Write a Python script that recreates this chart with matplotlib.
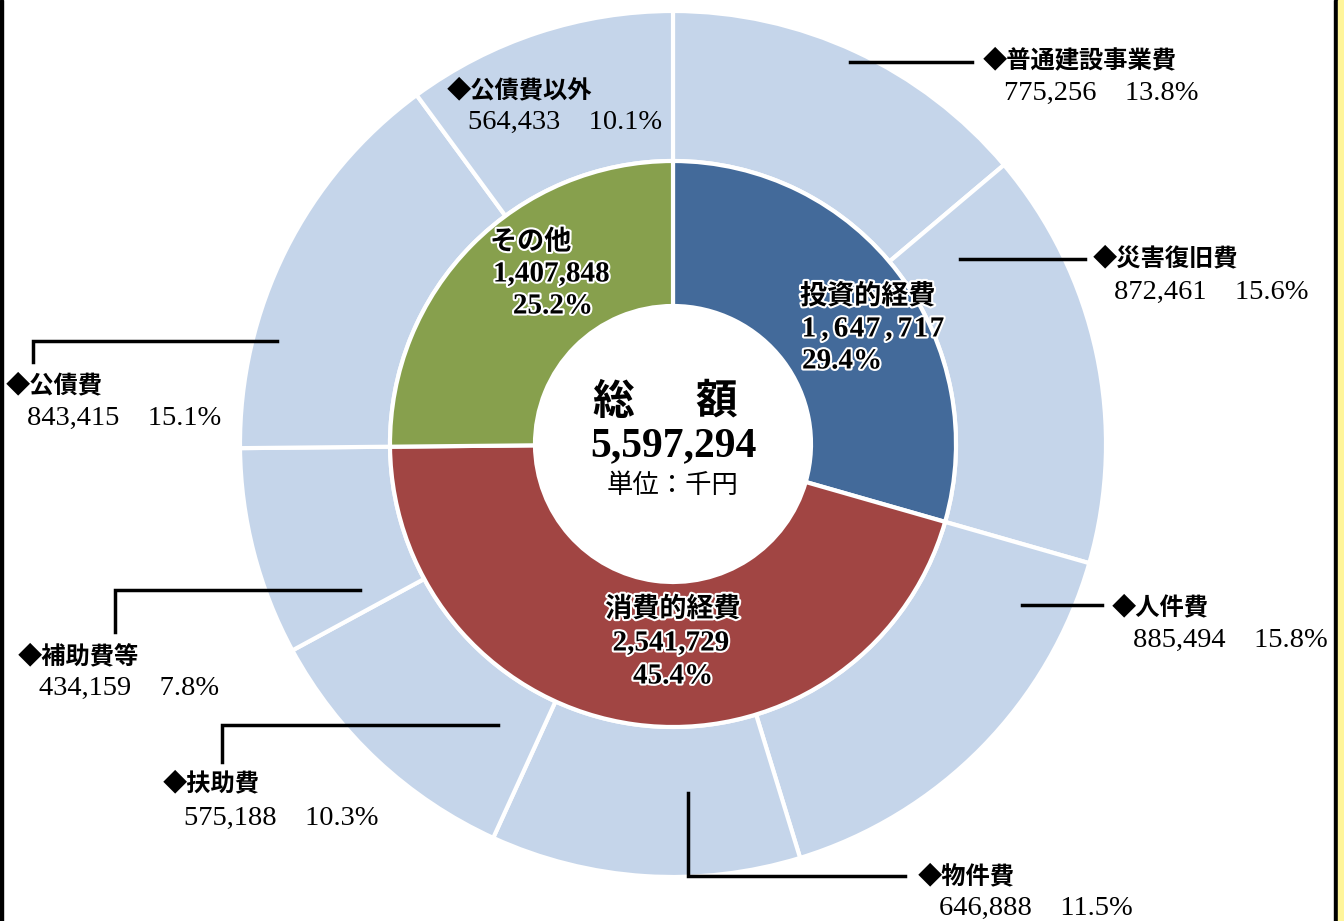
import matplotlib.pyplot as plt
import matplotlib.patheffects as pe
from matplotlib.patches import Rectangle

# data
outer_labels = ['普通建設事業費', '災害復旧費', '人件費', '物件費', '扶助費', '補助費等', '公債費', '公債費以外']
outer_values = [775256, 872461, 885494, 646888, 575188, 434159, 843415, 564433]
outer_pcts = ['13.8%', '15.6%', '15.8%', '11.5%', '10.3%', '7.8%', '15.1%', '10.1%']
inner_labels = ['投資的経費', '消費的経費', 'その他']
inner_values = [1647717, 2541729, 1407848]
inner_pcts = ['29.4%', '45.4%', '25.2%']
inner_colors = ['#436A9A', '#A14543', '#87A04D']
total = 5597294

W, H = 1344, 921
fam = ['Liberation Serif', 'Noto Sans CJK JP']

fig = plt.figure(figsize=(W / 100, H / 100), dpi=100)
ax = fig.add_axes([0, 0, 1, 1])
ax.set_xlim(0, W)
ax.set_ylim(0, H)
ax.set_aspect('equal')
ax.axis('off')

cx, cy = 673, H - 444
r_out, r_mid, r_hole = 433, 283, 138

ax.pie(outer_values, radius=r_out, center=(cx, cy), startangle=90, counterclock=False,
       colors=['#C5D5EA'] * len(outer_values),
       wedgeprops=dict(width=r_out - r_mid, edgecolor='white', linewidth=3))
ax.pie(inner_values, radius=r_mid, center=(cx, cy), startangle=90, counterclock=False,
       colors=inner_colors,
       wedgeprops=dict(width=r_mid - r_hole, edgecolor='white', linewidth=3))
ax.set_xlim(0, W)
ax.set_ylim(0, H)


def py(y):
    return H - y


# outer labels: (x of diamond, y of name line, y of value line)
lab_pos = [(983, 60, 93), (1093, 258, 292), (1112, 607, 640), (918, 876, 908),
           (163, 783, 818), (18, 656, 688), (6, 385, 418), (447, 90, 122)]
for name, v, p, (x, y1, y2) in zip(outer_labels, outer_values, outer_pcts, lab_pos):
    ax.text(x, py(y1), '◆' + name, family=fam, weight='bold', fontsize=17.5,
            ha='left', va='center', color='black')
    ax.text(x + 21, py(y2), f'{v:,}\u3000{p}', family=fam, fontsize=20.5,
            ha='left', va='center', color='black')

# leader lines
lines = [
    [(850, 62), (972, 62)],
    [(960, 259), (1085, 259)],
    [(1022, 605), (1102, 605)],
    [(688, 793), (688, 876), (905, 876)],
    [(498, 725), (222, 725), (222, 762)],
    [(360, 590), (115, 590), (115, 632)],
    [(277, 341), (33, 341), (33, 362)],
]
for seg in lines:
    xs = [s[0] for s in seg]
    ys = [py(s[1]) for s in seg]
    ax.plot(xs, ys, color='black', lw=2.5, solid_joinstyle='miter')

# inner labels
stroke = [pe.withStroke(linewidth=3, foreground='white')]
kw = dict(family=fam, weight='bold', va='center', color='black', path_effects=stroke)

# 投資的経費 (left aligned, spaced number)
ax.text(800, py(297), inner_labels[0], fontsize=19.5, ha='left', **kw)
for i, ch in enumerate(f'{inner_values[0]:,}'):
    ax.text(809 + i * 16.0, py(329), ch, fontsize=21, ha='center', **kw)
ax.text(802, py(361), inner_pcts[0], fontsize=21, ha='left', **kw)

# 消費的経費
ax.text(673, py(610), inner_labels[1], fontsize=19.5, ha='center', **kw)
ax.text(671, py(643), f'{inner_values[1]:,}', fontsize=21, ha='center', **kw)
ax.text(673, py(676), inner_pcts[1], fontsize=21, ha='center', **kw)

# その他
ax.text(490, py(243), inner_labels[2], fontsize=19.5, ha='left', **kw)
ax.text(493, py(274), f'{inner_values[2]:,}', fontsize=21, ha='left', **kw)
ax.text(553, py(306), inner_pcts[2], fontsize=21, ha='center', **kw)

# center
ax.text(613, py(403), '総', family=fam, weight='bold', fontsize=30, ha='center', va='center')
ax.text(716, py(403), '額', family=fam, weight='bold', fontsize=30, ha='center', va='center')
ax.text(cx, py(446), f'{total:,}', family=fam, weight='bold', fontsize=30, ha='center', va='center')
ax.text(cx, py(486), '単位：千円', family=fam, fontsize=19, ha='center', va='center')

# frame edges
ax.add_patch(Rectangle((0, 0), 3, H, color='black', zorder=5))
ax.add_patch(Rectangle((1334, 0), 4, H, color='black', zorder=5))
ax.add_patch(Rectangle((1338, 0), 6, H, color='#FFF59A', zorder=5))

fig.savefig('out.png', dpi=100)
